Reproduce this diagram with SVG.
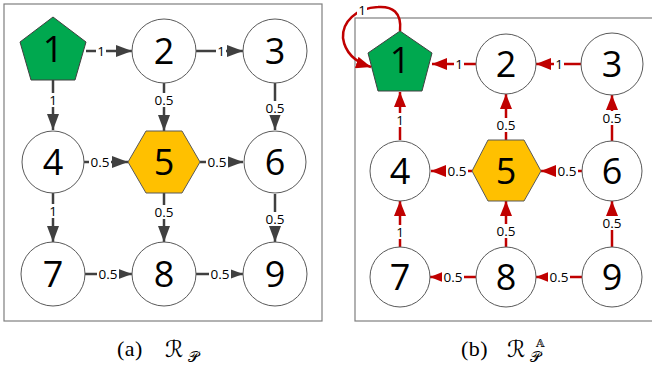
<svg xmlns="http://www.w3.org/2000/svg" width="652" height="372" viewBox="0 0 652 372">
<style>
.frame{fill:none;stroke:#7f7f7f;stroke-width:1.2}
.circ{fill:#fff;stroke:#595959;stroke-width:1}
.pent{fill:#00a84f;stroke:#404040;stroke-width:1}
.hex{fill:#ffc000;stroke:#595959;stroke-width:1}
.num{font-family:"Open Sans","Noto Sans",sans-serif;font-size:36px;text-anchor:middle;fill:#000}
.lbl{font-family:"Open Sans","Noto Sans",sans-serif;font-size:13.5px;text-anchor:middle;fill:#000}
.bg{fill:#fff;stroke:none}
.eg{fill:none;stroke:#404040;stroke-width:2.5;marker-end:url(#ag)}
.er{fill:none;stroke:#c00000;stroke-width:2.5;marker-end:url(#ar)}
.cap{font-family:"Liberation Serif",serif;font-size:22px;letter-spacing:0.5px;fill:#000}
.math{font-family:"DejaVu Serif","DejaVu Sans","Noto Sans",serif;fill:#000}
</style>
<defs>
<marker id="ag" viewBox="0 0 16 12" refX="16" refY="6" markerWidth="16" markerHeight="12" markerUnits="userSpaceOnUse" orient="auto"><path d="M0,0 L16,6 L0,12 z" fill="#404040"/></marker>
<marker id="ar" viewBox="0 0 15 12" refX="15" refY="6" markerWidth="15" markerHeight="12" markerUnits="userSpaceOnUse" orient="auto"><path d="M0,0 L15,6 L0,12 z" fill="#c00000"/></marker>
</defs>

<rect class="frame" x="4" y="4" width="318" height="317"/>
<rect class="frame" x="355" y="18" width="310" height="303"/>

<!-- Left panel connectors -->
<g id="edges-left">
<path class="eg" d="M86,51 L132,51"/>
<path class="eg" d="M196,51 L243,51"/>
<path class="eg" d="M53,80 L53,130"/>
<path class="eg" d="M164,83 L164,131"/>
<path class="eg" d="M275,83 L275,130"/>
<path class="eg" d="M84,162 L128,162"/>
<path class="eg" d="M200,162 L243,162"/>
<path class="eg" d="M53,193 L53,242"/>
<path class="eg" d="M164,193 L164,242"/>
<path class="eg" d="M275,194 L275,242"/>
<path class="eg" d="M85,274 L132,274"/>
<path class="eg" d="M196,274 L243,274"/>
<rect class="bg" x="96" y="44" width="10" height="14"/><text class="lbl" x="101" y="55.5">1</text>
<rect class="bg" x="216" y="44" width="10" height="14"/><text class="lbl" x="221" y="55.5">1</text>
<rect class="bg" x="48" y="93" width="10" height="14"/><text class="lbl" x="53" y="104.5">1</text>
<rect class="bg" x="153" y="93" width="22" height="14"/><text class="lbl" x="164" y="104.5">0.5</text>
<rect class="bg" x="264" y="101" width="22" height="14"/><text class="lbl" x="275" y="112.5">0.5</text>
<rect class="bg" x="89" y="155" width="22" height="14"/><text class="lbl" x="100" y="166.5">0.5</text>
<rect class="bg" x="206" y="155" width="22" height="14"/><text class="lbl" x="217" y="166.5">0.5</text>
<rect class="bg" x="48" y="204" width="10" height="14"/><text class="lbl" x="53" y="215.5">1</text>
<rect class="bg" x="153" y="205" width="22" height="14"/><text class="lbl" x="164" y="216.5">0.5</text>
<rect class="bg" x="264" y="212" width="22" height="14"/><text class="lbl" x="275" y="223.5">0.5</text>
<rect class="bg" x="97" y="267" width="22" height="14"/><text class="lbl" x="108" y="278.5">0.5</text>
<rect class="bg" x="209" y="267" width="22" height="14"/><text class="lbl" x="220" y="278.5">0.5</text>
</g>

<!-- Left panel nodes -->
<g id="a1"><polygon class="pent" points="53,17 86,42 75,80 31,80 20,42"/><text class="num" x="53" y="62">1</text></g>
<g id="a2"><circle class="circ" cx="164" cy="51" r="32"/><text class="num" x="164" y="64">2</text></g>
<g id="a3"><circle class="circ" cx="275" cy="51" r="32"/><text class="num" x="275" y="64">3</text></g>
<g id="a4"><circle class="circ" cx="53" cy="162" r="31"/><text class="num" x="53" y="175">4</text></g>
<g id="a5"><polygon class="hex" points="128,162 146,131 182,131 200,162 182,193 146,193"/><text class="num" x="164" y="175">5</text></g>
<g id="a6"><circle class="circ" cx="275" cy="162" r="31"/><text class="num" x="275" y="175">6</text></g>
<g id="a7"><circle class="circ" cx="53" cy="274" r="32"/><text class="num" x="53" y="287">7</text></g>
<g id="a8"><circle class="circ" cx="164" cy="274" r="32"/><text class="num" x="164" y="287">8</text></g>
<g id="a9"><circle class="circ" cx="275" cy="274" r="32"/><text class="num" x="275" y="287">9</text></g>

<!-- Right panel connectors -->
<g id="edges-right">
<path class="er" d="M400,31 C402,12 392,6 378,7 C356,8 342,22 343,38 C345,52 355,62 371,67"/>
<path class="er" d="M476,64 L432,64"/>
<path class="er" d="M581,64 L536,64"/>
<path class="er" d="M400,140 L400,92"/>
<path class="er" d="M506,140 L506,94"/>
<path class="er" d="M612,141 L612,95"/>
<path class="er" d="M472,171 L431,171"/>
<path class="er" d="M582,171 L541,171"/>
<path class="er" d="M400,247 L400,201"/>
<path class="er" d="M506,247 L506,201"/>
<path class="er" d="M612,247 L612,201"/>
<path class="er" d="M476,277 L430,277"/>
<path class="er" d="M582,277 L536,277"/>
<rect class="bg" x="357" y="3" width="10" height="14"/><text class="lbl" x="362" y="14.5">1</text>
<rect class="bg" x="454" y="57" width="10" height="14"/><text class="lbl" x="459" y="68.5">1</text>
<rect class="bg" x="554" y="57" width="10" height="14"/><text class="lbl" x="559" y="68.5">1</text>
<rect class="bg" x="395" y="113" width="10" height="14"/><text class="lbl" x="400" y="124.5">1</text>
<rect class="bg" x="495" y="118" width="22" height="14"/><text class="lbl" x="506" y="129.5">0.5</text>
<rect class="bg" x="601" y="111" width="22" height="14"/><text class="lbl" x="612" y="122.5">0.5</text>
<rect class="bg" x="446" y="164" width="22" height="14"/><text class="lbl" x="457" y="175.5">0.5</text>
<rect class="bg" x="556" y="164" width="22" height="14"/><text class="lbl" x="567" y="175.5">0.5</text>
<rect class="bg" x="395" y="225" width="10" height="14"/><text class="lbl" x="400" y="236.5">1</text>
<rect class="bg" x="495" y="224" width="22" height="14"/><text class="lbl" x="506" y="235.5">0.5</text>
<rect class="bg" x="601" y="216" width="22" height="14"/><text class="lbl" x="612" y="227.5">0.5</text>
<rect class="bg" x="442" y="270" width="22" height="14"/><text class="lbl" x="453" y="281.5">0.5</text>
<rect class="bg" x="548" y="270" width="22" height="14"/><text class="lbl" x="559" y="281.5">0.5</text>
</g>

<!-- Right panel nodes -->
<g id="b1"><polygon class="pent" points="400,31 432,53 422,91 378,91 368,53"/><text class="num" x="400" y="73">1</text></g>
<g id="b2"><circle class="circ" cx="506" cy="64" r="30"/><text class="num" x="506" y="77">2</text></g>
<g id="b3"><circle class="circ" cx="612" cy="64" r="31"/><text class="num" x="612" y="77">3</text></g>
<g id="b4"><circle class="circ" cx="400" cy="171" r="30"/><text class="num" x="400" y="184">4</text></g>
<g id="b5"><polygon class="hex" points="472,171 488,140 524,140 541,171 524,201 488,201"/><text class="num" x="506" y="184">5</text></g>
<g id="b6"><circle class="circ" cx="612" cy="171" r="30"/><text class="num" x="612" y="184">6</text></g>
<g id="b7"><circle class="circ" cx="400" cy="277" r="30"/><text class="num" x="400" y="290">7</text></g>
<g id="b8"><circle class="circ" cx="506" cy="277" r="30"/><text class="num" x="506" y="290">8</text></g>
<g id="b9"><circle class="circ" cx="612" cy="277" r="30"/><text class="num" x="612" y="290">9</text></g>

<!-- Captions -->
<text class="cap" x="117" y="356">(a)</text>
<text class="math" x="165" y="357" font-size="23">ℛ</text>
<text class="math" x="188" y="362" font-size="15">𝒫</text>
<text class="cap" x="461" y="356">(b)</text>
<text class="math" x="507" y="357" font-size="23">ℛ</text>
<text class="math" x="530" y="362" font-size="15">𝒫</text>
<text class="math" x="536" y="347" font-size="11">𝔸</text>
</svg>
